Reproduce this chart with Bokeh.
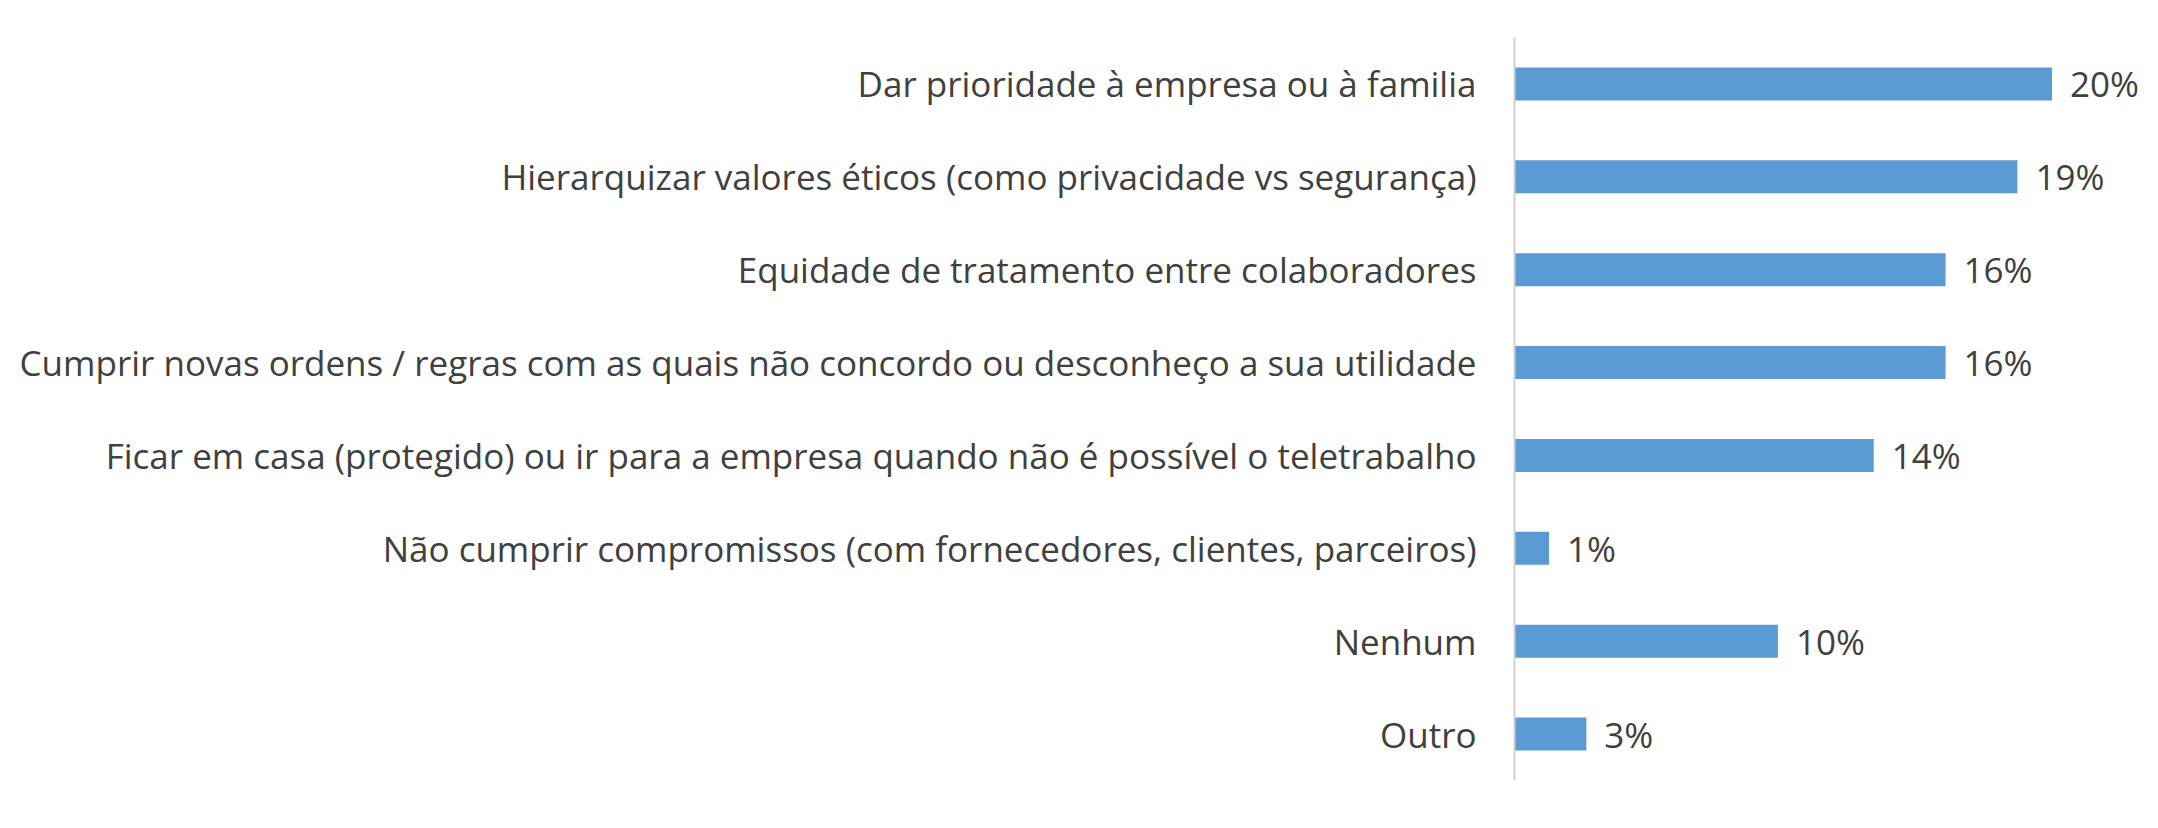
from bokeh.plotting import figure
from bokeh.models import ColumnDataSource, FactorRange, Range1d
from bokeh.core.properties import value
from bokeh.embed import file_html
from bokeh.resources import INLINE

categories = [
    "Dar prioridade à empresa ou à familia",
    "Hierarquizar valores éticos (como privacidade vs segurança)",
    "Equidade de tratamento entre colaboradores",
    "Cumprir novas ordens / regras com as quais não concordo ou desconheço a sua utilidade",
    "Ficar em casa (protegido) ou ir para a empresa quando não é possível o teletrabalho",
    "Não cumprir compromissos (com fornecedores, clientes, parceiros)",
    "Nenhum",
    "Outro",
]
values = [20.2, 18.9, 16.2, 16.2, 13.5, 1.3, 9.9, 2.7]
labels = ["20%", "19%", "16%", "16%", "14%", "1%", "10%", "3%"]

src = ColumnDataSource(dict(cat=categories, val=values, lab=labels))

p = figure(
    width=2142, height=812,
    y_range=FactorRange(factors=categories[::-1]),
    x_range=Range1d(0, 23.6),
    output_backend="svg", toolbar_location=None,
    min_border_left=1514, min_border_right=0,
    min_border_top=37, min_border_bottom=32,
)

p.hbar(y="cat", right="val", left=0, height=0.355, source=src,
       fill_color="#5B9BD5", line_color=None)

p.text(x="val", y="cat", text="lab", source=src, x_offset=18,
       text_baseline="middle", text_align="left",
       text_font=value("Open Sans"), text_font_size="35px", text_color="#404040")

p.xaxis.visible = False
p.xgrid.visible = False
p.ygrid.visible = False
p.outline_line_color = None

ya = p.yaxis[0]
ya.axis_line_color = "#D0D0D0"
ya.axis_line_width = 2
ya.major_tick_line_color = None
ya.minor_tick_line_color = None
ya.major_tick_out = 0
ya.major_tick_in = 0
ya.major_label_standoff = 38
ya.major_label_text_font = "Open Sans"
ya.major_label_text_font_size = "35px"
ya.major_label_text_color = "#404040"

open("out.html", "w").write(file_html(p, INLINE))
